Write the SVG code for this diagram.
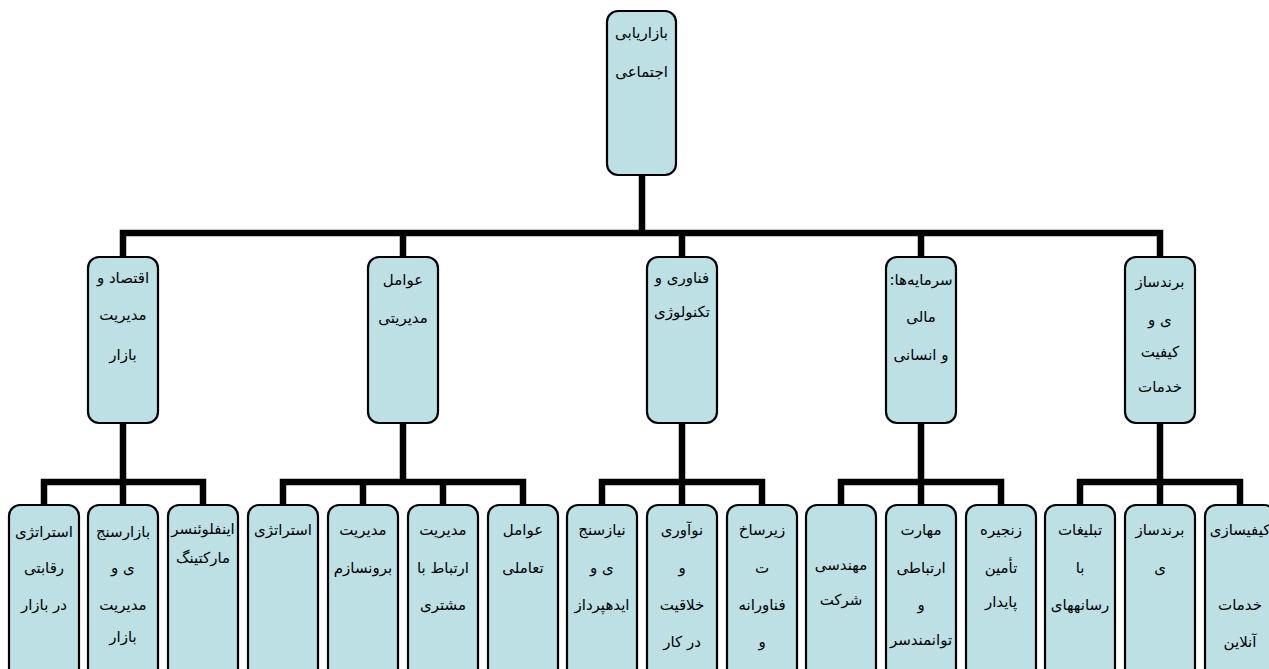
<svg xmlns="http://www.w3.org/2000/svg" width="1269" height="669" viewBox="0 0 1269 669">
<style>
.box{fill:#BCE0E4;stroke:#000;stroke-width:2.2}
.c{fill:none;stroke:#000;stroke-width:6.5;stroke-linejoin:miter;stroke-linecap:butt}
text{font-family:"DejaVu Sans","Noto Sans",sans-serif;font-size:15px;fill:#000;text-anchor:middle;direction:rtl}
</style>
<rect width="1269" height="669" fill="#fff"/>
<g id="connectors">
<path class="c" d="M642 175 V233 M123 257 V233 H1160 V257 M403 233 V257 M682 233 V257 M921 233 V257"/>
<path class="c" d="M44 505 V482 H203 V505 M123 423 V505"/>
<path class="c" d="M283 505 V482 H523 V505 M363 482 V505 M443 482 V505 M403 423 V482"/>
<path class="c" d="M602 505 V482 H762 V505 M682 423 V505"/>
<path class="c" d="M841 505 V482 H1001 V505 M921 423 V505"/>
<path class="c" d="M1080 505 V482 H1240 V505 M1160 423 V505"/>
</g>
<g id="root"><rect class="box" x="607" y="11" width="69" height="164" rx="11"/><text x="641.5" y="38">بازاریابی</text><text x="641.5" y="77">اجتماعی</text></g>
<g id="n1"><rect class="box" x="88" y="257" width="70" height="166" rx="11"/><text x="123" y="283">اقتصاد و</text><text x="123" y="320">مدیریت</text><text x="123" y="360">بازار</text></g>
<g id="n2"><rect class="box" x="368" y="257" width="70" height="166" rx="11"/><text x="403" y="285">عوامل</text><text x="403" y="323">مدیریتی</text></g>
<g id="n3"><rect class="box" x="647" y="257" width="70" height="166" rx="11"/><text x="682" y="283">فناوری و</text><text x="682" y="317">تکنولوژی</text></g>
<g id="n4"><rect class="box" x="886" y="257" width="70" height="166" rx="11"/><text x="921" y="285">سرمایه‌ها:</text><text x="921" y="322">مالی</text><text x="921" y="360">و انسانی</text></g>
<g id="n5"><rect class="box" x="1125" y="257" width="70" height="166" rx="11"/><text x="1160" y="287">برندساز</text><text x="1160" y="325">ی و</text><text x="1160" y="357">کیفیت</text><text x="1160" y="392">خدمات</text></g>

<g id="n1a"><rect class="box" x="9" y="505" width="70" height="180" rx="11"/><text x="44" y="537">استراتژی</text><text x="44" y="573">رقابتی</text><text x="44" y="610">در بازار</text></g>
<g id="n1b"><rect class="box" x="88" y="505" width="70" height="180" rx="11"/><text x="123" y="537">بازارسنج</text><text x="123" y="573">ی و</text><text x="123" y="610">مدیریت</text><text x="123" y="642">بازار</text></g>
<g id="n1c"><rect class="box" x="168" y="505" width="70" height="180" rx="11"/><text x="203" y="534">اینفلوئنسر</text><text x="203" y="563">مارکتینگ</text></g>

<g id="n2a"><rect class="box" x="248" y="505" width="70" height="180" rx="11"/><text x="283" y="535">استراتژی</text></g>
<g id="n2b"><rect class="box" x="328" y="505" width="70" height="180" rx="11"/><text x="363" y="535">مدیریت</text><text x="363" y="573">برونسازم</text></g>
<g id="n2c"><rect class="box" x="408" y="505" width="70" height="180" rx="11"/><text x="443" y="535">مدیریت</text><text x="443" y="573">ارتباط با</text><text x="443" y="610">مشتری</text></g>
<g id="n2d"><rect class="box" x="488" y="505" width="70" height="180" rx="11"/><text x="523" y="535">عوامل</text><text x="523" y="573">تعاملی</text></g>

<g id="n3a"><rect class="box" x="567" y="505" width="70" height="180" rx="11"/><text x="602" y="535">نیازسنج</text><text x="602" y="573">ی و</text><text x="602" y="610">ایدهپرداز</text></g>
<g id="n3b"><rect class="box" x="647" y="505" width="70" height="180" rx="11"/><text x="682" y="535">نوآوری</text><text x="682" y="573">و</text><text x="682" y="610">خلاقیت</text><text x="682" y="647">در کار</text></g>
<g id="n3c"><rect class="box" x="727" y="505" width="70" height="180" rx="11"/><text x="762" y="535">زیرساخ</text><text x="762" y="573">ت</text><text x="762" y="610">فناورانه</text><text x="762" y="647">و</text></g>

<g id="n4a"><rect class="box" x="806" y="505" width="70" height="180" rx="11"/><text x="841" y="570">مهندسی</text><text x="841" y="605">شرکت</text></g>
<g id="n4b"><rect class="box" x="886" y="505" width="70" height="180" rx="11"/><text x="921" y="535">مهارت</text><text x="921" y="573">ارتباطی</text><text x="921" y="610">و</text><text x="921" y="645">توانمندسر</text></g>
<g id="n4c"><rect class="box" x="966" y="505" width="70" height="180" rx="11"/><text x="1001" y="535">زنجیره</text><text x="1001" y="573">تأمین</text><text x="1001" y="607">پایدار</text></g>

<g id="n5a"><rect class="box" x="1045" y="505" width="70" height="180" rx="11"/><text x="1080" y="535">تبلیغات</text><text x="1080" y="573">با</text><text x="1080" y="610">رسانههای</text></g>
<g id="n5b"><rect class="box" x="1125" y="505" width="70" height="180" rx="11"/><text x="1160" y="535">برندساز</text><text x="1160" y="573">ی</text></g>
<g id="n5c"><rect class="box" x="1205" y="505" width="70" height="180" rx="11"/><text x="1240" y="535">کیفیسازی</text><text x="1240" y="610">خدمات</text><text x="1240" y="647">آنلاین</text></g>
</svg>
